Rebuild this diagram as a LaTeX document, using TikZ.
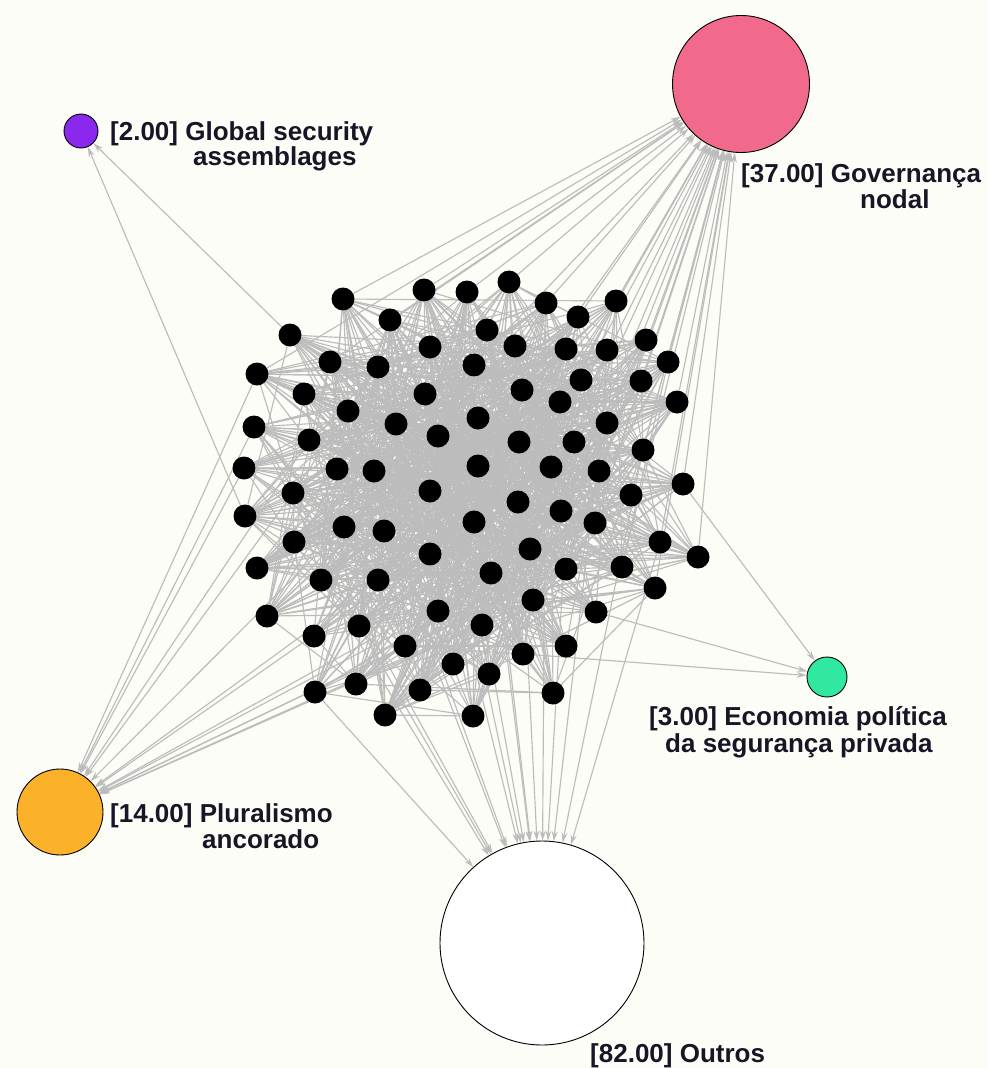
\documentclass[tikz,border=0pt]{standalone}
\usepackage{fontspec}
\setmainfont{Liberation Sans}
\usetikzlibrary{arrows.meta}
\pgfdeclarelayer{paperlayer}
\pgfdeclarelayer{bg}
\pgfsetlayers{paperlayer,bg,main}
\definecolor{paper}{RGB}{253,253,247}
\definecolor{edgegray}{RGB}{188,188,188}
\definecolor{labelink}{RGB}{22,22,38}
\definecolor{cpurple}{RGB}{139,40,238}
\definecolor{cpink}{RGB}{241,106,140}
\definecolor{cgreen}{RGB}{48,232,160}
\definecolor{corange}{RGB}{251,177,42}
\newcommand\lblfont{\fontsize{26}{26}\selectfont\bfseries}
\tikzset{
  dot/.style={circle,fill=black,draw=none,minimum size=23pt,inner sep=0pt},
  bignode/.style={circle,draw=black,line width=0.9pt,inner sep=0pt},
  meshedge/.style={draw=edgegray,line width=1.15pt},
  toedge/.style={draw=edgegray,line width=1.15pt,-{Stealth[length=10pt,width=6pt]}},
  lbl/.style={anchor=base west,inner sep=0pt,font=\lblfont,text=labelink}
}
\begin{document}
\begin{tikzpicture}[x=1pt,y=-1pt]
\begin{pgfonlayer}{paperlayer}
\fill[paper] (0,0) rectangle (988,1068);
\end{pgfonlayer}
\useasboundingbox (0,0) rectangle (988,1068);

% big category nodes
\node[bignode,fill=cpurple,minimum size=34pt] (glob) at (81,131) {};
\node[bignode,fill=cpink,minimum size=137pt] (gov) at (741,84) {};
\node[bignode,fill=cgreen,minimum size=40pt] (eco) at (827,677) {};
\node[bignode,fill=corange,minimum size=86pt] (plu) at (60,812) {};
\node[bignode,fill=white,minimum size=204pt] (out) at (542,943) {};

% labels
\node[lbl] (globA) at (110,140) {[2.00] Global security};
\node[lbl] (globB) at (193,165) {assemblages};
\node[lbl] (govA) at (741,182) {[37.00] Governança};
\node[lbl] (govB) at (860,208) {nodal};
\node[lbl] (ecoA) at (649,725) {[3.00] Economia política};
\node[lbl] (ecoB) at (665,752) {da segurança privada};
\node[lbl] (pluA) at (110,822) {[14.00] Pluralismo};
\node[lbl] (pluB) at (202,848) {ancorado};
\node[lbl] (outA) at (590,1062) {[82.00] Outros};

% black document nodes
\foreach \x/\y [count=\i] in {
343/299,424/290,467/292,509/282,546/303,616/301,578/317,
290/335,390/320,487/330,430/347,515/346,566/349,607/350,646/340,
330/362,378/367,474/365,668/362,
257/374,304/394,348/411,425/394,522/390,581/380,641/381,677/402,
254/427,396/424,478/418,560/402,607/423,
309/440,438/436,519/442,574/442,643/450,
244/468,337/469,374/471,478/466,551/467,599/471,
293/493,430/491,518/502,683/484,631/495,
245/516,344/527,384/531,474/522,561/511,595/523,
294/542,430/554,530/549,660/542,698/557,
257/568,378/580,491/573,566/569,622/567,
321/580,655/588,
267/616,438/611,533/600,596/612,
314/636,359/626,482/625,405/646,
523/654,566/646,
453/664,489/674,
315/692,356/684,420/690,553/693,
385/715,473/716}{
  \node[dot] (d\i) at (\x,\y) {};
  \expandafter\xdef\csname ddx\i\endcsname{\x}
  \expandafter\xdef\csname ddy\i\endcsname{\y}
}

\begin{pgfonlayer}{bg}
% mesh among documents
\pgfmathsetseed{12}
\foreach \i in {1,...,83}{
  \pgfmathtruncatemacro\js{\i+1}
  \edef\xa{\csname ddx\i\endcsname}
  \edef\ya{\csname ddy\i\endcsname}
  \foreach \j in {\js,...,84}{
    \edef\xb{\csname ddx\j\endcsname}
    \edef\yb{\csname ddy\j\endcsname}
    \pgfmathsetmacro\mx{((\xa+\xb)/2-470)/100}
    \pgfmathsetmacro\my{((\ya+\yb)/2-490)/100}
    \pgfmathsetmacro\pp{0.42*exp(-(\mx*\mx+\my*\my)/2.89)}
    \pgfmathtruncatemacro\hit{rnd<\pp ? 1 : 0}
    \ifnum\hit=1 \draw[meshedge] (d\i) -- (d\j);\fi
  }
}
% edges to categories
\foreach \i in {2,...,7,9,...,84} \draw[toedge] (d\i) -- (out);
\foreach \i in {1,...,7,9,...,15,18,19,24,25,26,27,31,32,36,37,42,43,47,48,53,54,58,59,63,64,66,20,16}
  \draw[toedge] (d\i) -- (gov);
\foreach \i in {20,28,38,44,33,50,61,56,62,68,73,69,63,74}
  \draw[toedge] (d\i) -- (plu);
\foreach \i in {8,49} \draw[toedge] (d\i) -- (glob);
\foreach \i in {47,70,75} \draw[toedge] (d\i) -- (eco);
\end{pgfonlayer}
\end{tikzpicture}
\end{document}
